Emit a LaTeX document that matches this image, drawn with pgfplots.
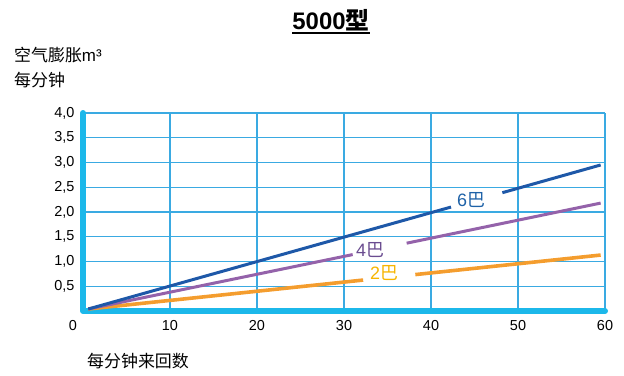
\documentclass[border=0pt]{standalone}
\usepackage{pgfplots}
\pgfplotsset{compat=1.18}
\usepackage{fontspec}
\setmainfont{Liberation Sans}
\newfontfamily\cjk{Noto Sans CJK SC}
\definecolor{gridc}{HTML}{3AAAE2}
\definecolor{axisc}{HTML}{1CB8EA}
\definecolor{bl}{HTML}{1E58A8}
\definecolor{pu}{HTML}{9462AA}
\definecolor{orn}{HTML}{F49D2E}
\definecolor{bltxt}{HTML}{1E62A8}
\definecolor{putxt}{HTML}{6A4C90}
\definecolor{ortxt}{HTML}{F7B500}
\begin{document}
\begin{tikzpicture}
\begin{axis}[
  at={(0,0)}, anchor=origin,
  scale only axis, width=522bp, height=198bp,
  xmin=0, xmax=60, ymin=0, ymax=4,
  xtick={0,10,...,60}, ytick={0.5,1,1.5,2,2.5,3,3.5,4},
  xticklabels={\llap{0\hspace{6bp}},10,20,30,40,50,60},
  grid=major, major grid style={gridc, line width=1.4bp},
  axis line style={draw=none},
  major tick length=0pt,
  tick label style={font=\fontsize{14.5}{16}\selectfont},
  /pgf/number format/assume math mode=true,
  yticklabel style={/pgf/number format/use comma, /pgf/number format/fixed, /pgf/number format/fixed zerofill, /pgf/number format/precision=1, xshift=-5bp},
  xticklabel style={yshift=-6bp},
  unbounded coords=jump,
  clip=false,
]
% thick L axes
\draw[axisc, line width=6bp, line cap=round, line join=round]
  (axis cs:0,4) -- (axis cs:0,0) -- (axis cs:60,0);
% 2 bar
\addplot[orn, line width=3.6bp, no marks] coordinates {
  (0.6,0.04) (32.2,0.625) (35,nan) (38.2,0.736) (59.5,1.13)};
% 4 bar
\addplot[pu, line width=3bp, no marks] coordinates {
  (0.6,0.04) (31.0,1.14) (34,nan) (37.2,1.37) (59.5,2.18)};
% 6 bar
\addplot[bl, line width=3bp, no marks] coordinates {
  (0.6,0.04) (42.3,2.10) (45,nan) (48.2,2.39) (59.5,2.95)};
\node[fill=white, text=bltxt, font=\fontsize{18}{20}\selectfont, inner sep=1.5bp] at (axis cs:44.6,2.24) {6\cjk 巴};
\node[fill=white, text=putxt, font=\fontsize{18}{20}\selectfont, inner sep=1.5bp] at (axis cs:33.0,1.24) {4\cjk 巴};
\node[fill=white, text=ortxt, font=\fontsize{18}{20}\selectfont, inner sep=1.5bp] at (axis cs:34.6,0.77) {2\cjk 巴};
\end{axis}
% labels (origin = axis origin, 1px = 1bp)
\node[anchor=base west, inner sep=0pt, font=\fontsize{17}{19}\selectfont] at (-69bp,249bp) {{\cjk 空气膨胀}m³};
\node[anchor=base west, inner sep=0pt, font=\fontsize{17}{19}\selectfont] at (-69bp,224bp) {\cjk 每分钟};
\node[anchor=base west, inner sep=0pt, font=\fontsize{17}{19}\selectfont] at (4bp,-56bp) {\cjk 每分钟来回数};
\node[anchor=base, inner sep=0pt, font=\fontsize{24}{26}\selectfont\bfseries] (t) at (248bp,281bp) {5000{\cjk\bfseries 型}};
\draw[line width=2bp] ([yshift=-3.5bp]t.base west) -- ([yshift=-3.5bp]t.base east);
\pgfresetboundingbox
\path[use as bounding box] (-83bp,-65bp) rectangle (541bp,311bp);
\end{tikzpicture}
\end{document}
